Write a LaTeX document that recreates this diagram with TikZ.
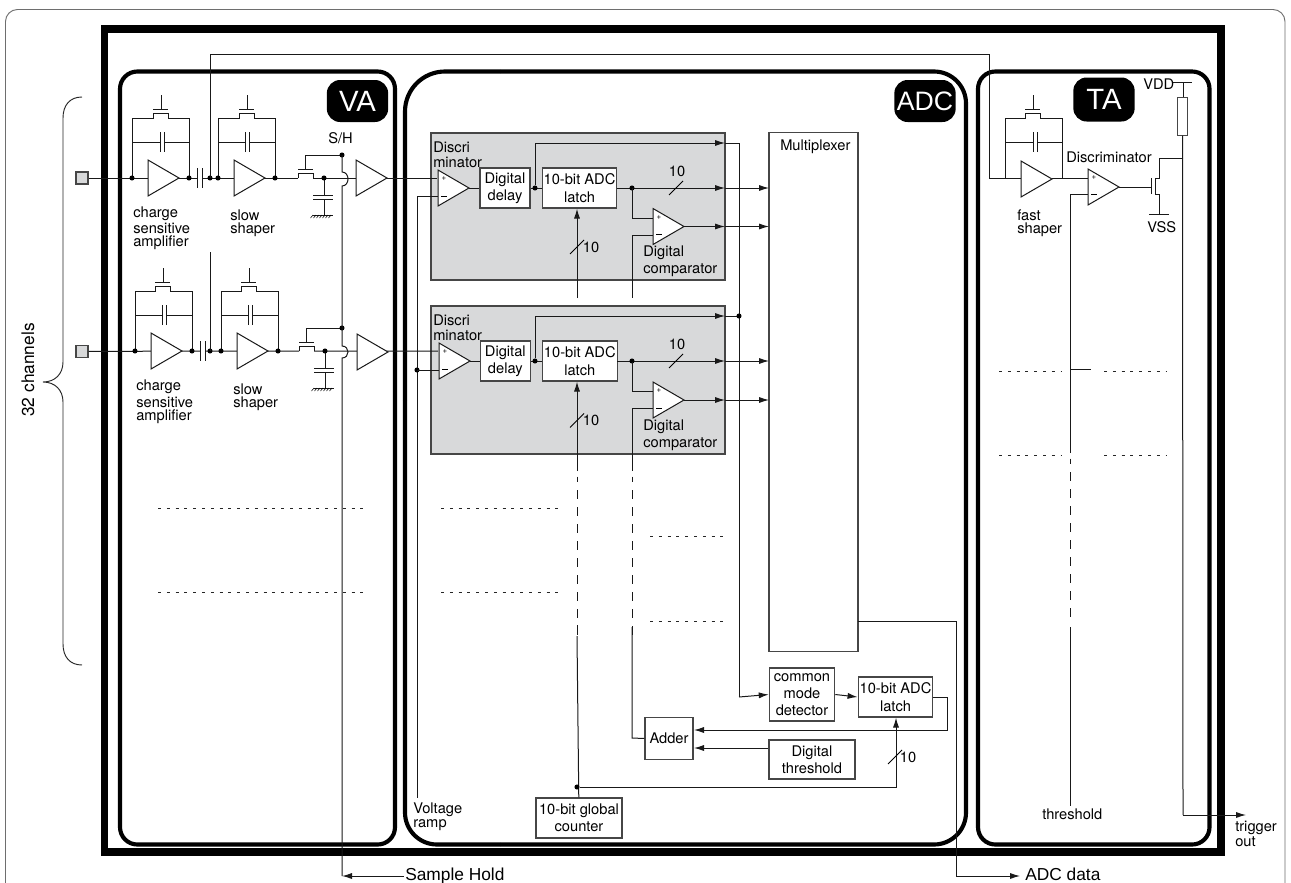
\documentclass[tikz,border=0pt]{standalone}
\usepackage{fontspec}
\setmainfont{TeX Gyre Heros}
\newfontfamily\bigfont{Liberation Sans}
\usetikzlibrary{arrows.meta,positioning}
\definecolor{blockgray}{RGB}{216,217,218}
\definecolor{edgegray}{RGB}{70,70,70}
\definecolor{framegray}{RGB}{110,110,110}
\newcommand{\lbl}{\fontsize{11}{13}\selectfont}
\tikzset{
 wire/.style={line width=0.75pt,draw=black!90},
 arr/.style={wire,-{Latex[length=7.5pt,width=4.6pt]}},
 thickbox/.style={draw=black,line width=3.1pt},
 blackbox/.style={fill=black,rounded corners=10pt,text=white,inner sep=0pt,font=\bigfont\fontsize{22}{22}\selectfont},
 block/.style={draw=edgegray,line width=0.9pt,fill=blockgray},
 wbox/.style={draw=edgegray,line width=0.9pt,fill=white,align=center,inner sep=0pt,font=\lbl},
 dotn/.style={circle,fill=black,inner sep=0pt,minimum size=3.8pt},
 lab/.style={anchor=west,inner sep=0pt,align=left,font=\lbl},
 dots/.style={line width=0.55pt,draw=black!85,dash pattern=on 2.2pt off 4.4pt},
 tri/.style={draw=black!90,line width=0.75pt,fill=white},
 big/.style={inner sep=0pt,anchor=base west,font=\bigfont\fontsize{13}{14}\selectfont},
}
% feedback: left x, right x, wire y, fet x, cap x
\newcommand{\fback}[5]{%
 \draw[wire] (#1,#3)--(#1,#3-60)--(#4-8,#3-60)--(#4-8,#3-65)--(#4+7,#3-65)--(#4+7,#3-60)--(#2,#3-60)--(#2,#3);
 \draw[wire] (#4-8,#3-69)--(#4+7,#3-69) (#4,#3-69)--(#4,#3-83);
 \draw[wire] (#1,#3-36)--(#5,#3-36) (#5+4.5,#3-36)--(#2,#3-36);
 \draw[wire] (#5,#3-46)--(#5,#3-26) (#5+4.5,#3-46)--(#5+4.5,#3-26);}
% S/H: x0 left of fet, y
\newcommand{\sampler}[2]{%
 \draw[wire] (#1,#2)--(#1,#2-5)--(#1+15,#2-5)--(#1+15,#2);
 \draw[wire] (#1,#2-9)--(#1+15,#2-9) (#1+7,#2-9)--(#1+7,#2-23)--(342,#2-23);
 \draw[wire] (#1+26,#2)--(#1+26,#2+17) (#1+15,#2+17)--(#1+35,#2+17) (#1+15,#2+21.5)--(#1+35,#2+21.5) (#1+26,#2+21.5)--(#1+26,#2+37);
 \draw[wire] (#1+15,#2+37)--(#1+35,#2+37);
 \foreach \i in {0,...,6}{\draw[line width=0.4pt] (#1+15+\i*3,#2+37)--++(-2.5,3);}
 \node[dotn] at (#1+26,#2) {};
 \node[dotn] at (342,#2-23) {};}
\begin{document}
\begin{tikzpicture}[x=0.75pt,y=-0.75pt]
\useasboundingbox (0,0) rectangle (1291,882);
\clip (0,0) rectangle (1291,882);
\fill[white] (0,0) rectangle (1291,882);
% outer frame
\draw[framegray,line width=0.7pt,rounded corners=9pt] (5.5,900)--(5.5,9.5)--(1285,9.5)--(1285,900);
\draw[draw=black,line width=5.3pt] (104.5,29) rectangle (1221,852);
% sections
\draw[thickbox,rounded corners=13pt] (120,71.5) rectangle (395,844.5);
\draw[thickbox,rounded corners=24pt] (500,844.5)--(405,844.5)--(405,400);
\draw[thickbox,rounded corners=24pt] (500,844.5)--(966,844.5)--(966,71.5)--(500,71.5);
\draw[thickbox,rounded corners=30pt] (500,71.5)--(405,71.5)--(405,400);
\draw[thickbox,rounded corners=13pt] (978,71.5) rectangle (1209.5,844.5);
\node[blackbox,minimum width=46pt,minimum height=31.5pt] (va) at (357.5,101) {VA};
\node[blackbox,minimum width=46pt,minimum height=31.5pt] (adc) at (925,101) {\fontsize{20}{20}\selectfont ADC};
\node[blackbox,minimum width=46pt,minimum height=33pt] (ta) at (1104,99.5) {TA};
% brace
\draw[line width=0.7pt,draw=black!85] (82,97) .. controls (70,97) and (63,105) .. (63,118) -- (63,362) .. controls (63,374) and (55,382) .. (43,382) .. controls (55,382) and (63,390) .. (63,402) -- (63,644) .. controls (63,657) and (70,665) .. (82,665);
\node[rotate=90,inner sep=0pt,font=\fontsize{13}{14}\selectfont] (ch) at (28,370) {32 channels};
% gray blocks
\draw[block] (431,133) rectangle (725,280);
\draw[block] (431,306) rectangle (725,454);
% input squares
\node[draw=edgegray,fill=blockgray,line width=0.9pt,minimum size=9pt,inner sep=0pt] (in1) at (82,178) {};
\node[draw=edgegray,fill=blockgray,line width=0.9pt,minimum size=9pt,inner sep=0pt] (in2) at (82,351.5) {};
% channel wires
\draw[wire] (in1)--(197,178) (202,178)--(298,178) (313,178)--(437,178);
\draw[wire] (in2)--(200,351) (205.5,351)--(299,351) (314,351)--(438,351);
\draw[wire] (197.5,168)--(197.5,188) (202.5,168)--(202.5,188);
\draw[wire] (200.5,341)--(200.5,361) (205.5,341)--(205.5,361);
\fback{132}{189}{178}{161}{160}
\fback{218}{275}{178}{247}{245}
\fback{135}{192}{351}{163}{162}
\fback{221}{278}{351}{249}{248}
\foreach \x/\y in {148/178,234/178,356/178,151/351,237/351,357/352,1021/179}{
  \draw[tri] (\x,\y-18)--(\x+31,\y)--(\x,\y+18)--cycle;
}
\foreach \p in {(132,178),(189,178),(210,178),(218,178),(275,178),(135,351),(192,351),(210,351),(221,351),(278,351)}{\node[dotn] at \p {};}
\sampler{298}{178}
\sampler{299}{351}
% vertical wires
\draw[wire] (210,178)--(210,54)--(989,54)--(989,178)--(1021,178);
\draw[wire] (210,252)--(210,351);
\node[big] (sh) at (405,880.5) {Sample Hold};
\draw[wire] (342,155)--(342,172) .. controls (350,172) and (350,186) .. (342,186)--(342,346) .. controls (350,346) and (350,358) .. (342,358)--(342,876);
\draw[arr] (404,876)--(342,876);
% ADC channel blocks
\draw[wire] (417,196)--(417,798);
\node[dotn] at (417,370) {};
\draw[wire] (417,196)--(438,196) (417,370)--(439,370);
\foreach \x/\y/\n in {438/188/a,439/361/b}{
  \draw[tri] (\x,\y-18)--(\x+31,\y)--(\x,\y+18)--cycle;
  \node[font=\fontsize{6}{6}\selectfont,inner sep=0pt] at (\x+6,\y-9) {+};
  \draw[line width=0.5pt] (\x+3,\y+8)--(\x+9,\y+8);
}
\node[lab] at (433,147) {Discri};\node[lab] at (433,162) {minator};
\node[lab] at (433,320) {Discri};\node[lab] at (433,335) {minator};
% block internals
\node[wbox,minimum width=37.5pt,minimum height=30pt] (dd1) at (505,188) {Digital\\delay};
\node[wbox,minimum width=56pt,minimum height=30pt] (la1) at (579.5,188) {10-bit ADC\\latch};
\node[wbox,minimum width=37.5pt,minimum height=30pt] (dd2) at (505.3,361) {Digital\\delay};
\node[wbox,minimum width=56pt,minimum height=30pt] (la2) at (579.8,361) {10-bit ADC\\latch};
\node[wbox,minimum width=66.7pt,minimum height=389pt] (mux) at (813.5,392) {};
\node[lab] at (780,147) {Multiplexer};
\draw[wire] (469,188)--(dd1) (dd1)--(la1);
\draw[wire] (470,361)--(dd2) (dd2)--(la2);
\node[dotn] (d1) at (535,188) {};
\node[dotn] (d2) at (535,361) {};
\draw[wire] (d1)--(535,143);
\draw[arr] (535,143)--(725,143);
\draw[wire] (725,143)--(739,143)--(739,697);
\draw[wire] (d2)--(535,316);
\draw[arr] (535,316)--(725,316);
\draw[wire] (725,316)--(739,316);
\node[dotn] at (739,316) {};
\foreach \y in {188,361}{
  \draw[arr] (617,\y)--(725,\y);
  \draw[arr] (725,\y)--(769,\y);
  \node[dotn] at (632,\y) {};
  \draw[line width=0.7pt] (669,\y+7)--(683,\y-7);
  \node[inner sep=0pt,font=\lbl] at (677,\y-17) {10};
}
\foreach \y in {226.5,400}{
  \draw[wire] (632,\y-38.5)--(632,\y-8.5)--(653,\y-8.5) (632,\y+8.5)--(653,\y+8.5);
  \draw[tri] (653,\y-18)--(684,\y)--(653,\y+18)--cycle;
  \node[font=\fontsize{6}{6}\selectfont,inner sep=0pt] at (659,\y-9) {+};
  \draw[line width=0.5pt] (656,\y+8)--(662,\y+8);
  \draw[arr] (684,\y)--(725,\y);
  \draw[arr] (725,\y)--(769,\y);
  \node[lab] at (643,\y+26.5) {Digital};
  \node[lab] at (643,\y+44) {comparator};
}
\draw[wire] (632,235)--(632,298);
\draw[arr] (577,298)--(la1.south -| 577,0);
\draw[line width=0.7pt] (570,254)--(584,240);
\node[inner sep=0pt,font=\lbl] at (591,247) {10};
\draw[arr] (577,471)--(la2.south -| 577,0);
\draw[line width=0.7pt] (570,427.5)--(584,413.5);
\node[inner sep=0pt,font=\lbl] at (591,420.5) {10};
\draw[wire] (632,408.5)--(632,471);
% lower ADC
\node[wbox,minimum width=64.5pt,minimum height=30pt] (cnt) at (579,818) {10-bit global\\counter};
% broken verticals (x = global counter, comparator, threshold)
\foreach \x/\ys in {577/471,632/471,1070/453}{
  \draw[wire] (\x,\ys+5.5)--(\x,\ys+10.5);
  \foreach \k in {0,...,8}{
    \draw[wire] (\x,\ys+19+\k*17)--(\x,\ys+27.5+\k*17);
  }
}
\draw[wire] (577,625)--(577,632);
\draw[wire] (577,636)--(cnt);
\node[wbox,minimum width=49pt,minimum height=39.7pt] (cm) at (802,694.5) {common\\mode\\detector};
\node[wbox,minimum width=56pt,minimum height=30pt] (la3) at (895.5,697) {10-bit ADC\\latch};
\node[wbox,minimum width=36pt,minimum height=32pt] (add) at (669,738.5) {Adder};
\node[wbox,minimum width=64.5pt,minimum height=29.2pt] (th) at (812,759.5) {Digital\\threshold};
\draw[arr] (739,697)--(cm.west);
\draw[arr] (cm.east)--(la3.west);
\draw[wire] (632,627)--(632,738)--(add.west);
\draw[arr] (la3.east)--(947,697)--(947,730)--(694,730);
\draw[arr] (th.west|-0,748)--(694,748);
\node[dotn] (d3) at (577,787) {};
\draw[arr] (d3)--(896,787)--(la3.south -| 896,0);
\draw[line width=0.7pt] (888,764)--(902,750);
\node[inner sep=0pt,font=\lbl] at (908,757) {10};
% ADC data
\draw[wire] (858,621)--(956,621)--(956,876);
\draw[arr] (956,876)--(1020,876);
\node[big] at (1025,880.5) {ADC data};
% labels
\node[lab] at (413,810) {Voltage};\node[lab] at (413,825) {ramp};
\node[lab] at (133,214) {charge};\node[lab] at (133,228.5) {sensitive};\node[lab] at (133,243) {amplifier};
\node[lab] at (230,215) {slow};\node[lab] at (230,230) {shaper};
\node[lab] at (136,387) {charge};\node[lab] at (136,402) {sensitive};\node[lab] at (136,416.5) {amplifier};
\node[lab] at (233,389) {slow};\node[lab] at (233,403.5) {shaper};
\node[lab] at (328,138) {S/H};
% TA
\fback{1005}{1062}{178}{1033}{1033}
\draw[wire] (1052,178)--(1088,178);
\draw[tri] (1088,169)--(1119,187)--(1088,205)--cycle;
\node[font=\fontsize{6}{6}\selectfont,inner sep=0pt] at (1094,178) {+};
\draw[line width=0.5pt] (1091,194)--(1097,194);
\draw[wire] (1070,453)--(1070,194)--(1088,194);
\draw[wire] (1070,627)--(1070,806);
\draw[wire] (1119,187)--(1151,187) (1151,178)--(1151,194);
\draw[wire] (1183,158)--(1159,158)--(1159,178)--(1155,178)--(1155,194)--(1159,194)--(1159,214) (1149,214)--(1169,214);
\draw[wire] (1173,82)--(1192,82) (1183,82)--(1183,98);
\node[draw=edgegray,fill=white,line width=0.8pt,minimum width=7pt,minimum height=28pt,inner sep=0pt] (res) at (1182.5,116.5) {};
\draw[wire] (res)--(1183,815);
\draw[arr] (1183,815)--(1246,815);
\node[lab] at (1143,84) {VDD};
\node[lab] at (1147,227) {VSS};
\node[lab] at (1066,157) {Discriminator};
\node[lab] at (1017,215) {fast};\node[lab] at (1017,230) {shaper};
\node[lab] at (1042,814) {threshold};
\node[lab] at (1235,828) {trigger};\node[lab] at (1235,842) {out};
% dotted
\foreach \y in {508,592}{\draw[dots] (158,\y)--(368,\y);\draw[dots] (441,\y)--(559,\y);}
\foreach \y in {536.5,621}{\draw[dots] (650,\y)--(727,\y);}
\foreach \y in {371,455}{\draw[dots] (999,\y)--(1062,\y);\draw[dots] (1104,\y)--(1167,\y);}
\draw[wire] (1070,369.5)--(1091,369.5);
\end{tikzpicture}
\end{document}
